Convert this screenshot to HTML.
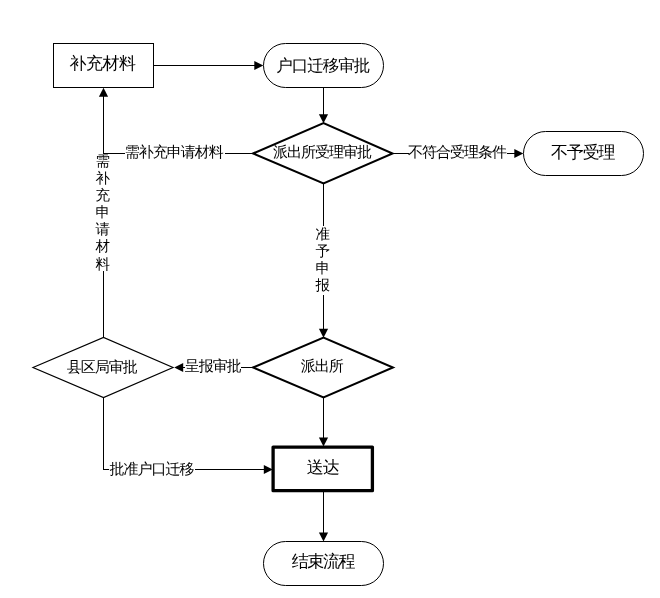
<!DOCTYPE html>
<html lang="zh-CN">
<head>
<meta charset="utf-8">
<title>户口迁移审批流程</title>
<style>
html,body{margin:0;padding:0;background:#fff;}
body{width:660px;height:598px;overflow:hidden;position:relative;}
svg{position:absolute;left:0;top:0;display:block;}
text{font-family:"Liberation Sans","WenQuanYi Zen Hei","Noto Sans CJK SC",sans-serif;fill:#000;}
.ln{stroke:#000;stroke-width:1;fill:none;shape-rendering:crispEdges;}
.sh{stroke:#000;stroke-width:1;fill:#fff;}
.ah{fill:#000;stroke:none;}
</style>
</head>
<body>
<svg width="660" height="598" viewBox="0 0 660 598">
<rect x="0" y="0" width="660" height="598" fill="#fff"/>

<!-- connectors -->
<path class="ln" d="M153.5 65.5H256"/>
<path class="ah" d="M263.3 65.5L254.3 60.9V70.1Z"/>
<path class="ln" d="M323.5 87V116"/>
<path class="ah" d="M323.5 123.3L318.9 114.3H328.1Z"/>
<path class="ln" d="M253 153.5H103.5V95"/>
<path class="ah" d="M103.5 87.7L98.9 96.7H108.1Z"/>
<path class="ln" d="M103.5 153V338"/>
<path class="ln" d="M393 153.5H516"/>
<path class="ah" d="M523.3 153.5L514.3 148.9V158.1Z"/>
<path class="ln" d="M323.5 183V331"/>
<path class="ah" d="M323.5 337.8L318.9 328.8H328.1Z"/>
<path class="ln" d="M253 367.5H182"/>
<path class="ah" d="M174.2 367.5L183.2 362.9V372.1Z"/>
<path class="ln" d="M103.5 397V469.5H266"/>
<path class="ah" d="M272.8 469.5L263.8 464.9V474.1Z"/>
<path class="ln" d="M323.5 397V439"/>
<path class="ah" d="M323.5 446.5L318.9 437.5H328.1Z"/>
<path class="ln" d="M323.5 491V534"/>
<path class="ah" d="M323.5 541.5L318.9 532.5H328.1Z"/>

<!-- shapes -->
<rect class="sh" x="53.5" y="43.5" width="100" height="44" shape-rendering="crispEdges"/>
<rect class="sh" x="263.5" y="43.5" width="120" height="44" rx="22" ry="22"/>
<path class="sh" style="stroke-width:2" d="M253 153.5L323.5 123L392.6 153.5L323.5 183.5Z"/>
<rect class="sh" x="523.5" y="131.5" width="120" height="44" rx="22" ry="22"/>
<path class="sh" style="stroke-width:2" d="M253 367.5L323.5 337.5L393 367.5L323.5 397.5Z"/>
<path class="sh" style="stroke-width:1.2" d="M33 367.5L103.5 337.5L173 367.5L103.5 397.5Z"/>
<rect class="sh" style="stroke-width:3.3;stroke-linejoin:round" x="273.1" y="447.1" width="99.3" height="43.6"/>
<rect class="sh" x="263.5" y="541.5" width="120" height="44" rx="22" ry="22"/>

<!-- label backgrounds -->
<rect x="125" y="145" width="100" height="16" fill="#fff"/>
<rect x="95" y="154" width="16" height="117" fill="#fff"/>
<rect x="409" y="145" width="98" height="16" fill="#fff"/>
<rect x="315" y="226" width="16" height="69" fill="#fff"/>
<rect x="185" y="359" width="56" height="16" fill="#fff"/>
<rect x="109" y="461" width="86" height="16" fill="#fff"/>

<!-- text -->
<text x="69.45" y="68.75" style="font-size:17px;letter-spacing:-0.5px">补充材料</text>
<text x="276.30" y="70.50" style="font-size:16.5px;letter-spacing:-1.0px">户口迁移审批</text>
<text x="272.95" y="157.45" style="font-size:15px;letter-spacing:-1.0px">派出所受理审批</text>
<text x="551.05" y="158.15" style="font-size:17px;letter-spacing:-1.2px">不予受理</text>
<text x="300.65" y="371.40" style="font-size:15px;letter-spacing:-1.0px">派出所</text>
<text x="66.75" y="372.20" style="font-size:15px;letter-spacing:-1.0px">县区局审批</text>
<text x="306.70" y="472.95" style="font-size:17px;letter-spacing:-1.0px">送达</text>
<text x="291.75" y="567.20" style="font-size:17px;letter-spacing:-1.4px">结束流程</text>
<text x="124.65" y="157.40" style="font-size:15px;letter-spacing:-1.0px">需补充申请材料</text>
<text x="408.05" y="157.40" style="font-size:15px;letter-spacing:-1.0px">不符合受理条件</text>
<text x="184.75" y="371.40" style="font-size:15px;letter-spacing:-1.0px">呈报审批</text>
<text x="109.50" y="473.60" style="font-size:15px;letter-spacing:-1.0px">批准户口迁移</text>
<text style="font-size:14.5px"><tspan x="95.45" y="165.97">需</tspan><tspan x="95.45" y="183.07">补</tspan><tspan x="95.45" y="200.17">充</tspan><tspan x="95.45" y="217.27">申</tspan><tspan x="95.45" y="234.37">请</tspan><tspan x="95.45" y="251.47">材</tspan><tspan x="95.45" y="268.57">料</tspan></text>
<text style="font-size:14.5px"><tspan x="315.45" y="238.77">准</tspan><tspan x="315.45" y="255.92">予</tspan><tspan x="315.45" y="273.07">申</tspan><tspan x="315.45" y="290.22">报</tspan></text>
</svg>
</body>
</html>
